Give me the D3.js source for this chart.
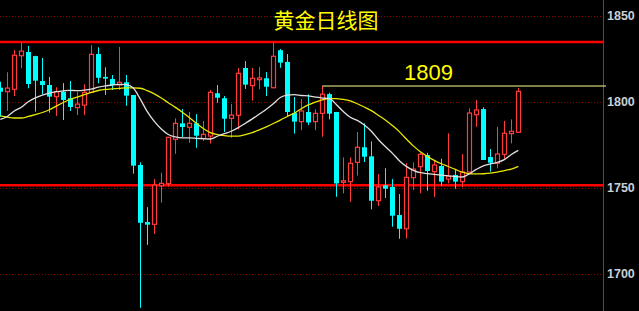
<!DOCTYPE html>
<html>
<head>
<meta charset="utf-8">
<script src="https://d3js.org/d3.v7.min.js"></script>
<style>
  html, body { margin: 0; padding: 0; background: #000; }
  svg { display: block; }
</style>
</head>
<body>
<div id="chart"></div>
<script>
// daily gold candles
var opens  = [1808.0,1805.7,1807.1,1826.6,1828.8,1826.4,1811.9,1809.6,1802.8,1805.7,
              1801.9,1796.4,1797.9,1805.3,1827.6,1814.3,1813.1,1809.6,1811.2,1803.8,
              1763.1,1729.9,1728.6,1751.0,1752.2,1778.0,1787.3,1785.0,1787.3,1778.4,
              1779.9,1804.8,1801.9,1790.2,1792.0,1819.5,1809.2,1812.7,1813.5,1808.0,
              1829.8,1823.0,1793.3,1788.3,1793.9,1788.3,1793.1,1804.3,1793.9,1753.0,
              1753.4,1764.6,1773.4,1768.1,1742.3,1751.3,1750.3,1734.0,1726.0,1755.7,
              1762.1,1768.9,1759.2,1762.5,1754.9,1757.3,1753.4,1759.0,1792.3,1795.6,
              1767.7,1764.1,1769.3,1781.3,1782.1];
var highs  = [1811.5,1817.0,1829.9,1834.4,1832.3,1826.6,1825.3,1814.3,1808.3,1810.7,
              1811.9,1805.7,1810.0,1832.8,1831.5,1819.9,1815.4,1831.7,1815.4,1803.8,
              1764.6,1738.6,1754.9,1758.6,1779.2,1790.2,1795.6,1793.9,1792.7,1788.7,
              1806.7,1809.6,1803.2,1798.5,1819.5,1823.5,1819.5,1820.0,1817.1,1834.4,
              1830.5,1827.6,1802.6,1801.4,1804.2,1795.4,1809.0,1805.1,1793.9,1767.5,
              1767.5,1782.3,1787.3,1776.8,1757.8,1761.2,1754.9,1746.2,1764.2,1764.6,
              1770.2,1770.2,1765.4,1766.7,1781.5,1760.6,1769.5,1796.0,1800.9,1796.6,
              1772.4,1785.3,1788.7,1789.6,1807.9];
var lows   = [1791.2,1794.5,1803.2,1819.3,1807.7,1794.1,1804.2,1793.5,1791.6,1789.2,
              1794.5,1792.1,1792.1,1805.3,1810.6,1803.8,1806.7,1806.7,1797.5,1758.0,
              1680.1,1716.6,1723.0,1741.2,1750.5,1769.6,1779.3,1776.0,1773.1,1777.0,
              1775.5,1799.3,1782.3,1778.9,1783.8,1807.3,1800.5,1807.1,1803.2,1807.7,
              1819.6,1791.2,1781.3,1783.4,1786.3,1783.4,1779.5,1789.6,1744.6,1746.6,
              1741.7,1756.9,1764.8,1737.3,1739.2,1743.9,1727.2,1720.2,1720.4,1748.5,
              1746.6,1748.1,1744.6,1750.9,1752.4,1749.3,1750.1,1759.0,1785.3,1766.0,
              1759.2,1761.1,1766.0,1775.7,1782.1];
var closes = [1805.7,1807.8,1826.9,1829.3,1810.2,1812.1,1809.6,1802.8,1805.7,1800.9,
              1796.8,1798.5,1805.3,1827.4,1813.8,1813.3,1809.6,1811.2,1803.4,1762.7,
              1729.5,1728.4,1751.4,1752.4,1779.2,1787.3,1785.2,1787.3,1780.1,1780.9,
              1805.3,1802.2,1790.0,1792.1,1816.4,1809.8,1813.5,1813.7,1808.6,1826.3,
              1822.6,1793.9,1788.3,1794.5,1787.8,1793.1,1804.3,1792.9,1752.4,1753.9,
              1764.1,1773.4,1767.9,1742.3,1750.3,1749.3,1733.6,1726.0,1755.9,1760.7,
              1769.3,1759.6,1763.1,1753.4,1756.7,1753.4,1759.0,1793.3,1795.1,1766.0,
              1764.4,1769.5,1781.5,1782.7,1805.9];

// moving averages (white = short, yellow = long)
var maShort = [1789.6,1791.3,1794.5,1796.7,1799.9,1802.1,1803.7,1804.9,1805.7,1806.2,
               1806.5,1806.3,1806.6,1807.2,1808.3,1809.1,1809.6,1809.9,1809.8,1807.8,
               1801.4,1794.1,1788.4,1784.0,1780.8,1779.4,1778.8,1778.8,1778.6,1778.4,
               1778.2,1779.8,1781.3,1782.7,1784.8,1787.3,1789.9,1792.7,1795.5,1798.7,
               1802.3,1803.7,1804.0,1803.5,1803.3,1802.6,1802.0,1801.7,1798.3,1794.2,
               1790.8,1789.0,1786.3,1782.7,1777.9,1773.8,1770.0,1765.6,1762.3,1760.0,
               1758.6,1758.1,1757.6,1757.2,1756.8,1756.3,1756.1,1758.0,1760.5,1762.6,
               1763.7,1764.6,1766.2,1769.2,1771.6];
var maLong  = [1791.6,1790.9,1790.4,1790.4,1791.3,1792.4,1793.6,1795.2,1797.3,1799.4,
               1801.3,1802.6,1804.0,1805.3,1806.4,1807.0,1807.3,1807.6,1807.9,1807.9,
               1807.7,1806.3,1804.4,1802.0,1799.3,1796.6,1793.8,1790.7,1787.3,1784.3,
               1781.9,1780.8,1780.2,1779.9,1779.9,1780.8,1781.9,1783.5,1785.3,1787.2,
               1789.2,1791.3,1793.3,1795.8,1798.0,1799.7,1801.0,1801.7,1801.7,1801.2,
               1800.3,1798.7,1796.8,1794.7,1792.0,1789.2,1786.0,1782.5,1778.2,1774.2,
               1770.8,1768.1,1765.8,1763.8,1762.2,1760.5,1758.9,1758.0,1757.9,1758.0,
               1758.3,1758.9,1759.8,1760.7,1762.3];

var yTicks = [1700, 1750, 1800, 1850];
var redLevels = [1834.6, 1751.3];
var markLevel = 1809;
var markStart = 46;   // candle index where the 1809 line starts
var title = "黄金日线图";

var width = 639, height = 311;
var axisX = 603;
var bodyW = 5;
var upColor = "#ff3b3b", downColor = "#00ffff";

var svg = d3.select("#chart").append("svg")
            .attr("width", width)
            .attr("height", height)
            .style("background", "#000");

var x = d3.scaleLinear().domain([0, 74]).range([0.3, 518.3]);
var y = d3.scaleLinear().domain([1700, 1850]).range([273.5, 15.5]);

// dotted grid
svg.selectAll(".grid")
   .data(yTicks)
   .enter().append("line")
   .attr("x1", 0).attr("x2", axisX)
   .attr("y1", d => Math.round(y(d)) + 0.5)
   .attr("y2", d => Math.round(y(d)) + 0.5)
   .attr("stroke", "#8b0000")
   .attr("stroke-width", 1)
   .attr("stroke-dasharray", "1,2");

// right axis
var axis = d3.axisRight(y).tickValues(yTicks).tickFormat(d3.format("d")).tickSize(0).tickPadding(4);
var gAxis = svg.append("g")
   .attr("transform", "translate(" + axisX + ",0)")
   .call(axis);
gAxis.select(".domain").attr("stroke", "#b22222").attr("d", "M0.5,0V" + height);
gAxis.selectAll("text")
   .attr("fill", "#c8d0d8")
   .attr("font-family", "Liberation Sans, Arial, sans-serif")
   .attr("font-size", 12.5)
   .attr("font-weight", "bold");

// support / resistance
svg.selectAll(".level")
   .data(redLevels)
   .enter().append("line")
   .attr("x1", 0).attr("x2", axisX)
   .attr("y1", d => y(d)).attr("y2", d => y(d))
   .attr("stroke", "#ff0000")
   .attr("stroke-width", 2.5);

var candles = d3.range(opens.length).map(function(i) {
    return {i: i, o: opens[i], h: highs[i], l: lows[i], c: closes[i]};
});

var g = svg.selectAll(".candle")
   .data(candles)
   .enter().append("g");

g.append("line")
   .attr("x1", d => Math.round(x(d.i)) + 0.5)
   .attr("x2", d => Math.round(x(d.i)) + 0.5)
   .attr("y1", d => y(d.h))
   .attr("y2", d => y(d.l))
   .attr("stroke", d => d.c >= d.o ? upColor : downColor)
   .attr("stroke-width", 1);

g.append("rect")
   .attr("x", d => Math.round(x(d.i)) - 2 + (d.c >= d.o ? 0.5 : 0))
   .attr("width", d => d.c >= d.o ? bodyW - 1 : bodyW)
   .attr("y", d => y(Math.max(d.o, d.c)))
   .attr("height", d => Math.max(1.5, Math.abs(y(d.o) - y(d.c))))
   .attr("fill", d => d.c >= d.o ? "#000" : downColor)
   .attr("stroke", d => d.c >= d.o ? upColor : "none")
   .attr("stroke-width", 1.2);

// moving averages
var line = d3.line()
   .x((d, i) => x(i))
   .y(d => y(d))
   .curve(d3.curveMonotoneX);

svg.append("path")
   .datum(maLong)
   .attr("d", line)
   .attr("fill", "none")
   .attr("stroke", "#e8e800")
   .attr("stroke-width", 1.3);

svg.append("path")
   .datum(maShort)
   .attr("d", line)
   .attr("fill", "none")
   .attr("stroke", "#e0e0e0")
   .attr("stroke-width", 1.3);

// 1809 marker
svg.append("line")
   .attr("x1", x(markStart)).attr("x2", 606)
   .attr("y1", y(markLevel)).attr("y2", y(markLevel))
   .attr("stroke", "#ffff90")
   .attr("stroke-width", 1);

svg.append("text")
   .attr("x", 404).attr("y", 79.5)
   .attr("fill", "#ffff00")
   .attr("font-family", "Liberation Sans, Arial, sans-serif")
   .attr("font-size", 22)
   .text(markLevel);

svg.append("text")
   .attr("x", 326).attr("y", 28)
   .attr("text-anchor", "middle")
   .attr("fill", "#ffff00")
   .attr("font-family", "Noto Sans CJK SC, sans-serif")
   .attr("font-size", 21)
   .text(title);
</script>
</body>
</html>
